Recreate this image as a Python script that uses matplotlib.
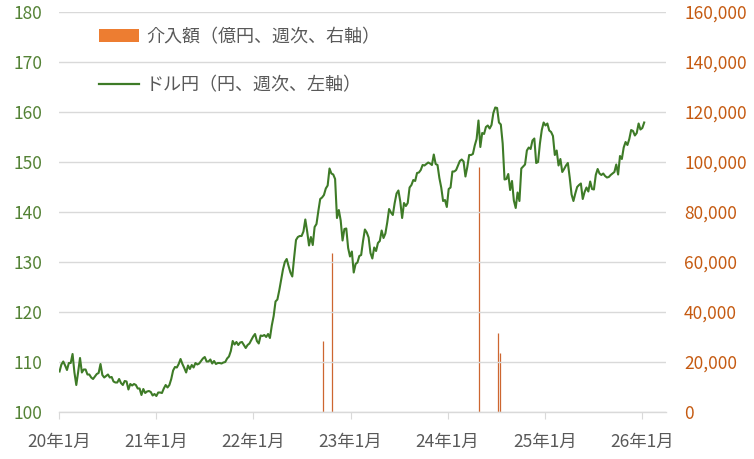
import matplotlib
matplotlib.use('Agg')
import matplotlib.pyplot as plt
from matplotlib.patches import Patch
from matplotlib.lines import Line2D
from matplotlib.ticker import FuncFormatter
import pandas as pd

plt.rcParams['font.family'] = ['Noto Sans CJK JP', 'DejaVu Sans']

# USD/JPY weekly (yen), one list per year
fx_2020 = [108.1, 109.5, 110.1, 109.3, 108.4, 109.8, 109.8, 111.6, 107.9, 105.4,
           108.0, 110.8, 107.9, 108.5, 108.5, 107.5, 107.5, 106.9, 106.6, 107.1,
           107.6, 107.8, 109.6, 107.4, 106.9, 107.2, 107.5, 106.9, 107.0, 106.1,
           105.9, 105.9, 106.6, 105.8, 105.4, 106.2, 106.1, 104.5, 105.6, 105.3,
           105.6, 105.4, 104.7, 104.7, 103.4, 104.6, 103.8, 104.1, 104.2, 104.0,
           103.3, 103.6]
fx_2021 = [103.2, 103.9, 103.9, 103.8, 104.7, 105.4, 104.9, 105.4, 106.6, 108.3,
           109.0, 108.9, 109.6, 110.6, 109.6, 108.8, 107.9, 109.3, 108.6, 109.4,
           108.9, 109.8, 109.5, 109.7, 110.2, 110.7, 111.0, 110.1, 110.1, 110.5,
           109.7, 110.2, 109.6, 109.8, 109.8, 109.7, 109.9, 110.0, 110.7, 111.1,
           112.2, 114.2, 113.5, 114.0, 113.4, 113.9, 114.0, 113.4, 112.8, 113.4,
           113.7, 114.4, 115.1]
fx_2022 = [115.6, 114.2, 113.7, 115.3, 115.2, 115.4, 115.0, 115.6, 114.8, 117.3,
           119.2, 122.1, 122.5, 124.3, 126.4, 128.5, 130.0, 130.6, 129.2, 127.9,
           127.1, 130.9, 134.4, 135.0, 135.2, 135.2, 136.1, 138.5, 136.1, 133.3,
           135.0, 133.4, 137.0, 137.6, 140.2, 142.6, 142.9, 143.4, 144.7, 145.3,
           148.7, 147.7, 147.5, 146.6, 138.8, 140.4, 138.3, 134.3, 136.6, 136.7,
           132.8, 131.1]
fx_2023 = [132.1, 127.9, 129.6, 129.9, 131.2, 131.4, 134.2, 136.5, 135.9, 134.9,
           131.8, 130.7, 132.9, 132.2, 133.8, 134.2, 136.3, 134.8, 135.7, 137.9,
           140.6, 139.9, 139.4, 141.8, 143.7, 144.3, 142.1, 138.8, 141.8, 141.2,
           141.8, 144.9, 145.4, 146.4, 146.2, 147.8, 147.9, 148.4, 149.4, 149.3,
           149.6, 149.9, 149.7, 149.4, 151.5, 149.6, 149.4, 146.8, 144.9, 142.2,
           142.4, 141.0]
fx_2024 = [144.6, 144.9, 148.1, 148.1, 148.4, 149.3, 150.2, 150.5, 150.1, 147.1,
           149.0, 151.4, 151.4, 151.6, 153.3, 154.6, 158.3, 153.0, 155.8, 155.6,
           157.0, 157.3, 156.7, 157.4, 159.8, 160.9, 160.8, 157.9, 157.5, 153.7,
           146.5, 146.6, 147.6, 144.4, 146.2, 142.3, 140.8, 143.9, 142.2, 148.7,
           149.1, 149.5, 152.3, 152.9, 152.6, 154.3, 154.7, 149.8, 150.0, 153.7,
           156.4, 157.9]
fx_2025 = [157.3, 157.7, 156.3, 156.0, 155.2, 151.4, 152.3, 149.3, 150.6, 148.0,
           148.6, 149.3, 149.8, 146.9, 143.5, 142.2, 143.7, 145.0, 145.4, 145.7,
           142.6, 144.0, 144.9, 144.1, 146.1, 144.6, 144.5, 147.4, 148.6, 147.7,
           147.4, 147.7, 147.2, 146.9, 147.0, 147.4, 147.7, 148.0, 149.5, 147.5,
           151.2, 150.6, 152.9, 154.0, 153.4, 154.6, 156.4, 156.2, 155.3, 155.8,
           157.7, 156.5]
fx_2026 = [156.8, 157.9]

# intervention amounts (100 million yen, weekly)
iv_dates = ['2022-09-19', '2022-10-24', '2024-04-29', '2024-07-08', '2024-07-15']
iv_values = [28382, 63499, 97885, 31678, 23670]

tick_dates = ['2020-01-01', '2021-01-01', '2022-01-01', '2023-01-01',
              '2024-01-01', '2025-01-01', '2026-01-01']
tick_labels = ['20年1月', '21年1月', '22年1月', '23年1月', '24年1月', '25年1月', '26年1月']

usdjpy = fx_2020 + fx_2021 + fx_2022 + fx_2023 + fx_2024 + fx_2025 + fx_2026
dates = pd.date_range('2020-01-03', periods=len(usdjpy), freq='7D')

line_color = '#3E7B27'
bar_color = '#CD6630'
green_txt = '#548235'
orange_txt = '#C55A11'
grid_c = '#D9D9D9'

fig = plt.figure(figsize=(7.54, 4.59), dpi=100)
ax1 = fig.add_axes([59/754, 1 - 412/459, (666 - 59)/754, 400/459])
ax2 = ax1.twinx()
ax1.set_zorder(ax2.get_zorder() + 1)
ax1.patch.set_visible(False)

# very narrow weekly bars -> drawn as thin vertical stems
ax2.vlines(pd.to_datetime(iv_dates), 0, iv_values, color=bar_color, lw=0.9)
ax1.plot(dates, usdjpy, color=line_color, lw=1.5)

ax1.set_ylim(100, 180)
ax1.set_yticks(range(100, 181, 10))
ax2.set_ylim(0, 160000)
ax2.set_yticks(range(0, 160001, 20000))
ax2.yaxis.set_major_formatter(FuncFormatter(lambda v, p: f'{v:,.0f}'))

ax1.set_xlim(pd.Timestamp('2020-01-01'), pd.Timestamp('2026-04-01'))
ax1.set_xticks(pd.to_datetime(tick_dates))
ax1.set_xticklabels(tick_labels)

ax1.yaxis.grid(True, color=grid_c, lw=1)
ax1.set_axisbelow(True)
for s in ['top', 'left', 'right']:
    ax1.spines[s].set_visible(False)
    ax2.spines[s].set_visible(False)
ax2.spines['bottom'].set_visible(False)
ax1.spines['bottom'].set_color(grid_c)
ax1.spines['bottom'].set_linewidth(1)

ax1.tick_params(axis='y', length=0, pad=12, labelsize=12.5, labelcolor=green_txt)
ax2.tick_params(axis='y', length=0, pad=13, labelsize=12.5, labelcolor=orange_txt)
ax1.tick_params(axis='x', length=5, color=grid_c, pad=10, labelsize=12.5, labelcolor='#595959')

handles = [Patch(facecolor='#ED7D31', edgecolor='none'),
           Line2D([0], [0], color=line_color, lw=1.6)]
labels = ['介入額（億円、週次、右軸）', 'ドル円（円、週次、左軸）']
ax1.legend(handles, labels, loc='upper left', bbox_to_anchor=(99/754, 1 - 28/459),
           bbox_transform=fig.transFigure, frameon=False, fontsize=13,
           borderpad=0, borderaxespad=0, handlelength=2.2, handletextpad=0.4,
           labelspacing=1.7, labelcolor='#595959')

fig.savefig('out.png', dpi=100)
